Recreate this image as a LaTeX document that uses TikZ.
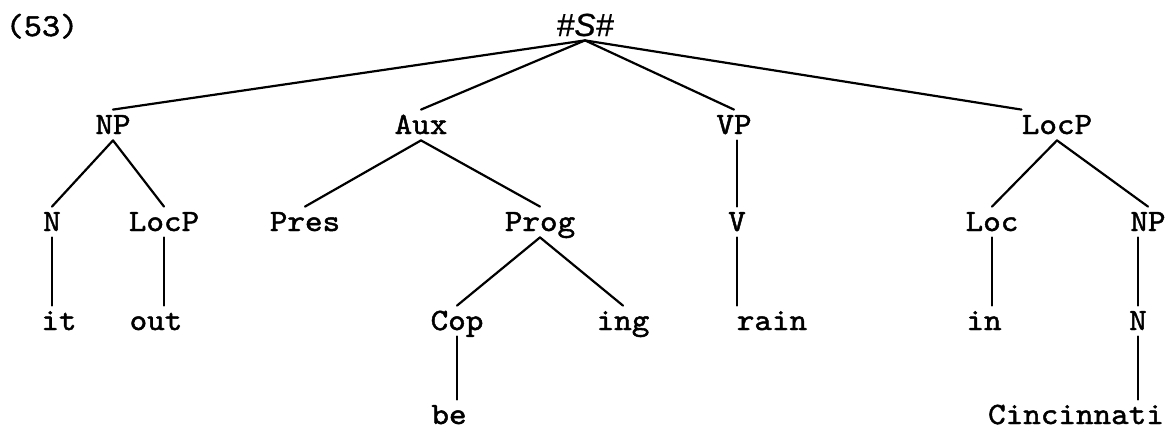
\documentclass[tikz,border=0pt]{standalone}
\usepackage{fontspec}
\newfontfamily\tw{lmmono10-regular.otf}[FakeStretch=1.08,FakeBold=1.5]
\newfontfamily\hs{Liberation Sans}[FakeBold=0.6]
\begin{document}
\begin{tikzpicture}[x=0.5pt,y=-0.5pt,
  lab/.style={font=\tw\fontsize{15.5}{17}\selectfont, anchor=base, inner xsep=0pt, inner ysep=3pt, text height=9pt, text depth=0pt},
  edge/.style={line width=1.1pt, line cap=round}]
\useasboundingbox (0,0) rectangle (1168,428);
% labels
\node[font=\tw\fontsize{16}{18}\selectfont, anchor=base, inner sep=0pt] (num) at (42,36) {(53)};
\node[font=\hs\itshape\fontsize{16}{18}\selectfont, anchor=base, inner xsep=0pt, inner ysep=2pt, text depth=0pt] (S) at (585,36) {\#S\#};
% row 1
\node[lab] (NPa) at (113,134) {NP};
\node[lab] (Aux) at (421,134) {Aux};
\node[lab] (VP) at (734,134) {VP};
\node[lab] (LocPa) at (1057,134) {LocP};
% row 2
\node[lab] (Na) at (52,231) {N};
\node[lab] (LocPb) at (164,231) {LocP};
\node[lab] (Pres) at (305,231) {Pres};
\node[lab] (Prog) at (540,231) {Prog};
\node[lab] (V) at (737,231) {V};
\node[lab] (Loc) at (992,231) {Loc};
\node[lab] (NPb) at (1148,231) {NP};
% row 3
\node[lab] (it) at (59,330) {it};
\node[lab] (out) at (156,330) {out};
\node[lab] (Cop) at (457,330) {Cop};
\node[lab] (ing) at (623,330) {ing};
\node[lab] (rain) at (772,330) {rain};
\node[lab] (inw) at (984,330) {in};
\node[lab] (Nb) at (1138,330) {N};
% row 4
\node[lab] (be) at (449,424) {be};
\node[lab] (Cinc) at (1076,424) {Cincinnati};
% connectors
\draw[edge] (S.south) -- (NPa.north);
\draw[edge] (S.south) -- (Aux.north);
\draw[edge] (S.south) -- (VP.north);
\draw[edge] (S.south) -- (LocPa.north west);
\draw[edge] (NPa.south) -- (Na.north);
\draw[edge] (NPa.south) -- (LocPb.north);
\draw[edge] (Aux.south) -- (Pres.north);
\draw[edge] (Aux.south) -- (Prog.north);
\draw[edge] (Prog.south) -- (Cop.north);
\draw[edge] (Prog.south) -- (ing.north);
\draw[edge] (LocPa.south) -- (Loc.north);
\draw[edge] (LocPa.south) -- (NPb.north);
\draw[edge] (V.north) -- (V.north |- VP.south);
\draw[edge] (V.south) -- (V.south |- rain.north);
\draw[edge] (Na.south) -- (Na.south |- it.north);
\draw[edge] (LocPb.south) -- (LocPb.south |- out.north);
\draw[edge] (Cop.south) -- (Cop.south |- be.north);
\draw[edge] (Loc.south) -- (Loc.south |- inw.north);
\draw[edge] (Nb.north) -- (Nb.north |- NPb.south);
\draw[edge] (Nb.south) -- (Nb.south |- Cinc.north);
\end{tikzpicture}
\end{document}
